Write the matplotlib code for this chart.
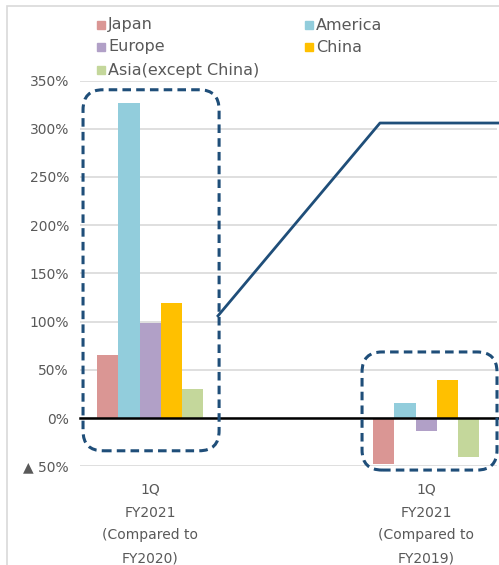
import matplotlib.pyplot as plt
import numpy as np
from matplotlib.patches import FancyBboxPatch, Rectangle

# growth rates by region, %
periods = ['1Q\nFY2021\n(Compared to\nFY2020)', '1Q\nFY2021\n(Compared to\nFY2019)']
regions = ['Japan', 'America', 'Europe', 'China', 'Asia(except China)']
japan = [65, -48]
america = [327, 16]
europe = [99, -13]
china = [119, 39]
asia = [30, -40]
colors = ['#DA9694', '#92CDDC', '#B1A0C7', '#FFC000', '#C4D79B']

yticks = [-50, 0, 50, 100, 150, 200, 250, 300, 350]
ytick_labels = ['\u25b2 50%', '0%', '50%', '100%', '150%', '200%', '250%', '300%', '350%']

W, H = 499, 565
fig = plt.figure(figsize=(W / 100, H / 100), dpi=100)
ax = fig.add_axes([80 / W, 1 - 466.2 / H, 417 / W, (466.2 - 80.6) / H])

x = np.arange(len(periods))
bw = 0.0765
series = [japan, america, europe, china, asia]
for i, (vals, c) in enumerate(zip(series, colors)):
    ax.bar(x + (i - 2) * bw, vals, width=bw, color=c, zorder=3)

ax.set_ylim(-50, 350)
ax.set_xlim(-0.254, 1.257)
ax.set_yticks(yticks)
ax.set_yticklabels(ytick_labels, fontsize=10, color='#595959')
ax.set_xticks(x)
ax.set_xticklabels(periods, fontsize=10, color='#595959', linespacing=1.8)
ax.tick_params(length=0)
ax.tick_params(axis='y', pad=8)
ax.tick_params(axis='x', pad=12)
ax.grid(axis='y', color='#D9D9D9', lw=1.2, zorder=0)
for s in ax.spines.values():
    s.set_visible(False)
ax.axhline(0, color='black', lw=1.8, zorder=4, xmax=1.01, clip_on=False)

fig.canvas.draw()


def callout(x0, y0, x1, y1):
    # dashed rounded frame, given in data units, drawn in pixels
    p0 = ax.transData.transform((x0, y0))
    p1 = ax.transData.transform((x1, y1))
    box = FancyBboxPatch((p0[0], p0[1]), p1[0] - p0[0], p1[1] - p0[1],
                         boxstyle='round,pad=0,rounding_size=20',
                         transform=None, fill=False, edgecolor='#1F4E79',
                         lw=2.2, linestyle=(0, (2.8, 1.7)), zorder=5,
                         clip_on=False)
    fig.add_artist(box)


callout(-0.243, -34, 0.25, 340.5)
callout(0.768, -54, 1.257, 68.5)
ax.plot([0.246, 0.833, 1.27], [106, 306, 306], color='#1F4E79', lw=2,
        zorder=5, clip_on=False)

# legend, two columns
leg_pos = [(96, 25), (304, 25), (96, 47), (304, 47), (96, 70)]
for (px, py), name, c in zip(leg_pos, regions, colors):
    fig.add_artist(Rectangle(((px + 1) / W, 1 - (py + 4) / H), 8 / W, 8 / H,
                             transform=fig.transFigure, color=c))
    fig.text((px + 12) / W, 1 - py / H, name, fontsize=11.5, color='#595959',
             va='center', ha='left')

# outer chart frame
fig.add_artist(Rectangle((7 / W, -0.1), 1.2, 1 - 6 / H + 0.1,
                         transform=fig.transFigure, fill=False,
                         edgecolor='#D9D9D9', lw=1.2))

fig.savefig('out.png', dpi=100)
